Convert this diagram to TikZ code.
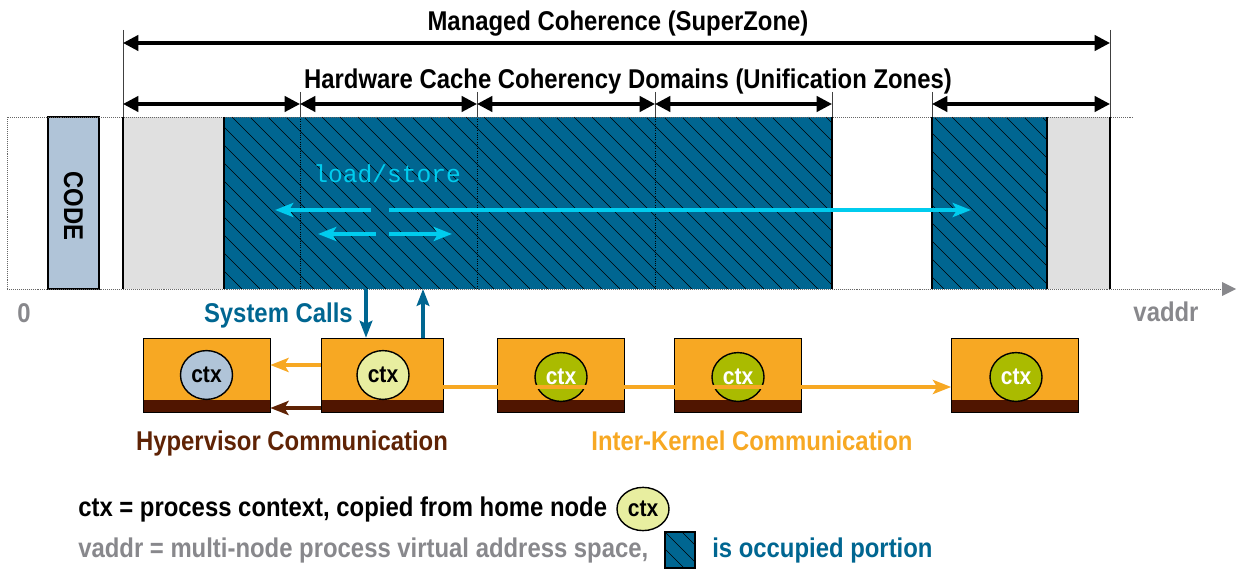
\documentclass[tikz,border=0pt]{standalone}
\usepackage{fontspec}
\setmainfont{Liberation Sans}[FakeStretch=0.88]
\newfontfamily\lsfont{Liberation Mono}
\usetikzlibrary{arrows.meta,shapes.geometric,positioning}

\definecolor{occ}{RGB}{0,102,145}
\definecolor{kfill}{RGB}{247,168,35}
\definecolor{kbase}{RGB}{80,21,0}
\definecolor{hvbrown}{RGB}{95,35,5}
\definecolor{ctxgreen}{RGB}{170,187,0}
\definecolor{ctxhome}{RGB}{232,238,160}
\definecolor{codefill}{RGB}{176,196,216}
\definecolor{lgray}{RGB}{224,224,224}
\definecolor{axgray}{RGB}{136,136,140}
\definecolor{lscyan}{RGB}{0,204,238}

\begin{document}
\begin{tikzpicture}[x=0.025cm,y=-0.025cm,
	txt/.style={font=\fontsize{19.3}{21}\selectfont\bfseries,inner sep=0pt},
	dimarr/.style={line width=2.3pt,{Triangle[length=11pt,width=11pt]}-{Triangle[length=11pt,width=11pt]}},
	tick/.style={line width=0.5pt,black!75},
	hatch/.style={line width=0.4pt,black},
	lsarr/.style={line width=2.6pt,lscyan,-{Stealth[length=13pt,width=10pt,inset=3pt]}},
	sysarr/.style={line width=2.3pt,occ,-{Stealth[length=12pt,width=9pt,inset=2pt]}},
	hvarr/.style={line width=2.5pt,-{Stealth[length=13pt,width=10pt,inset=3pt]}},
	kernel/.style={draw=black,fill=kfill,minimum width=3.175cm,minimum height=1.85cm,inner sep=0pt,
		path picture={\fill[kbase] (path picture bounding box.south west) rectangle ([yshift=0.3cm]path picture bounding box.south east);}},
	ctx/.style={ellipse,draw=black,line width=1pt,minimum width=1.3cm,minimum height=1.22cm,inner sep=0pt,
		font=\fontsize{17}{17}\selectfont\bfseries}]
	\useasboundingbox (0,0) rectangle (1237,569);

	% address space
	\fill[codefill] (48,117) rectangle (99,289);
	\draw[black,line width=0.8pt] (48,117) rectangle (99,289);
	\fill[lgray] (123,117) rectangle (224,289);
	\fill[occ] (224,117) rectangle (832,289);
	\fill[occ] (932,117) rectangle (1047,289);
	\fill[lgray] (1047,117) rectangle (1110,289);
	\begin{scope}
		\clip (224,117) rectangle (832,289) (932,117) rectangle (1047,289);
		\foreach \x in {52,70,...,1050}
			\draw[hatch] (\x,117) -- ++(172,172);
	\end{scope}
	\foreach \x in {300,477,655}
		\draw[densely dotted,black,line width=0.6pt] (\x,117) -- (\x,289);
	\draw[densely dotted,black!60] (1133,117) -- (7,117) -- (7,289);
	\draw[densely dotted,black!60] (7,289) -- (1222,289);
	\fill[axgray] (1222,282) -- (1236,289) -- (1222,296) -- cycle;
	\foreach \x in {123,224,832,932,1047,1110}
		\draw[black,line width=0.8pt] (\x,117) -- (\x,289);
	\node[txt,rotate=-90] (code) at (73.5,206) {CODE};

	% coherence ranges
	\foreach \x in {123,1110}
		\draw[tick] (\x,30) -- (\x,117);
	\foreach \x in {300,477,655,832,932}
		\draw[tick] (\x,92) -- (\x,117);
	\draw[dimarr] (123,43) -- (1110,43);
	\foreach \a/\b in {123/300,300/477,477/655,655/832,932/1110}
		\draw[dimarr] (\a,104) -- (\b,104);
	\node[txt,anchor=base] (mc) at (618,31) {Managed Coherence (SuperZone)};
	\node[txt,anchor=base] (hw) at (628,89) {Hardware Cache Coherency Domains (Unification Zones)};

	% load/store
	\node[font=\lsfont\fontsize{17.5}{18}\selectfont,text=lscyan,inner sep=0pt,anchor=base west] (ls) at (313,183) {load/store};
	\coordinate (la) at (371,210);
	\coordinate (lb) at (275,210);
	\coordinate (ra) at (389,210);
	\coordinate (rb) at (971,210);
	\coordinate (sla) at (376,234);
	\coordinate (slb) at (318,234);
	\coordinate (sra) at (389,234);
	\coordinate (srb) at (452,234);
	\draw[lsarr] (la) -- (lb);
	\draw[lsarr] (ra) -- (rb);
	\draw[lsarr] (sla) -- (slb);
	\draw[lsarr] (sra) -- (srb);

	\node[txt,text=axgray,anchor=base] (zero) at (24,323) {0};
	\node[txt,text=axgray,anchor=base] (vaddr) at (1166,322) {vaddr};

	% kernels
	\node[kernel] (k1) at (206.5,375) {};
	\node[kernel,minimum width=3.05cm] (k2) at (382,375) {};
	\node[kernel] (k3) at (560.5,375) {};
	\node[kernel] (k4) at (737.5,375) {};
	\node[kernel] (k5) at (1015,375) {};
	\node[ctx,fill=codefill] (c1) at (206.5,375) {ctx};
	\node[ctx,fill=ctxhome] (c2) at (383,375) {ctx};
	\node[ctx,fill=ctxgreen,text=white] (c3) at (561,377) {ctx};
	\node[ctx,fill=ctxgreen,text=white] (c4) at (738,377) {ctx};
	\node[ctx,fill=ctxgreen,text=white] (c5) at (1016,377) {ctx};

	% system calls
	\coordinate (scd) at (366,289);
	\coordinate (scu) at (423,289);
	\draw[sysarr] (scd) -- (scd |- k2.north);
	\draw[sysarr] (scu |- k2.north) -- (scu);
	\node[txt,text=occ,anchor=base east] (sc) at (353,323) {System Calls};

	% hypervisor / inter-kernel
	\coordinate (hvo) at (0,365);
	\coordinate (hvb) at (0,408);
	\coordinate (ikrow) at (0,387);
	\draw[hvarr,kfill] (k2.west |- hvo) -- (k1.east |- hvo);
	\draw[hvarr,hvbrown] (k2.west |- hvb) -- (k1.east |- hvb);
	\draw[line width=2.6pt,kfill,-{Stealth[length=13pt,width=10pt,inset=3pt]}] (k2.east |- ikrow) -- (k5.west |- ikrow);
	\node[txt,text=hvbrown,anchor=base] (hv) at (292,451) {Hypervisor Communication};
	\node[txt,text=kfill,anchor=base] (ik) at (752,451) {Inter-Kernel Communication};

	% legend
	\node[txt,anchor=base west] (leg1) at (78,517) {ctx = process context, copied from home node};
	\node[ctx,fill=ctxhome,minimum width=1.3cm,minimum height=1.08cm] (legctx) at (643,509) {ctx};
	\node[txt,text=axgray,anchor=base west] (leg2) at (78,558) {vaddr = multi-node process virtual address space,};
	\fill[occ] (665,532) rectangle (695,568);
	\begin{scope}
		\clip (665,532) rectangle (695,568);
		\foreach \x in {648,665,682}
			\draw[hatch] (\x,532) -- ++(36,36);
	\end{scope}
	\draw[black,line width=0.8pt] (665,532) rectangle (695,568);
	\node[txt,text=occ,anchor=base west] (leg3) at (712,558) {is occupied portion};
\end{tikzpicture}
\end{document}
